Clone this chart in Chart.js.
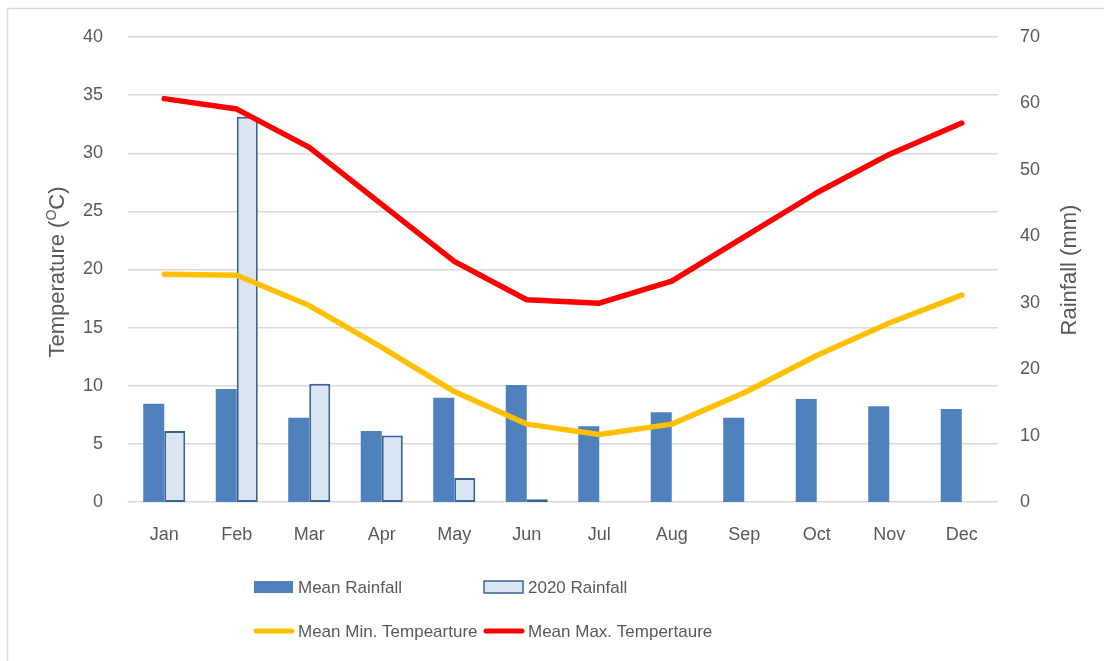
<!DOCTYPE html>
<html>
<head>
<meta charset="utf-8">
<script src="https://cdn.jsdelivr.net/npm/chart.js@4.4.1/dist/chart.umd.min.js"></script>
<style>
    html, body { margin: 0; padding: 0; background: #fff; }
    #wrap { width: 1104px; height: 661px; }
</style>
</head>
<body>
<div id="wrap"><canvas id="climate_chart" width="1104" height="661"></canvas></div>
<script>
// Chart data
const months = ["Jan", "Feb", "Mar", "Apr", "May", "Jun", "Jul", "Aug", "Sep", "Oct", "Nov", "Dec"];
const meanRainfall = [14.8, 17.0, 12.7, 10.7, 15.7, 17.6, 11.4, 13.5, 12.7, 15.5, 14.4, 14.0];
const rainfall2020 = [10.7, 58.0, 17.8, 10.0, 3.6, 0.4, null, null, null, null, null, null];
const meanMinTemp = [19.6, 19.5, 16.9, 13.3, 9.5, 6.7, 5.8, 6.7, 9.4, 12.6, 15.4, 17.8];
const meanMaxTemp = [34.7, 33.8, 30.5, 25.6, 20.7, 17.4, 17.1, 19.0, 22.8, 26.6, 29.9, 32.6];
const tempTicks = [0, 5, 10, 15, 20, 25, 30, 35, 40];
const rainTicks = [0, 10, 20, 30, 40, 50, 60, 70];

const textColor = "#595959";
const gridColor = "#D9D9D9";
const fontFamily = "'Liberation Sans', Arial, sans-serif";

// legend slots, in dataset order
const legendSlots = [
    { x: 254, y: 587 },
    { x: 484, y: 587 },
    { x: 254, y: 631 },
    { x: 484, y: 631 },
];

const extras = {
    id: "extras",
    beforeDraw(chart) {
        const ctx = chart.ctx;
        ctx.save();
        ctx.strokeStyle = gridColor;
        ctx.lineWidth = 1.5;
        ctx.strokeRect(7.5, 8.5, 1110, 670);
        ctx.restore();
    },
    afterDraw(chart) {
        const ctx = chart.ctx;
        ctx.save();
        ctx.fillStyle = textColor;
        ctx.textBaseline = "middle";

        // left axis title with superscript O
        const big = "22px " + fontFamily;
        const small = "14px " + fontFamily;
        ctx.font = big;
        const w1 = ctx.measureText("Temperature (").width;
        const w3 = ctx.measureText("C)").width;
        ctx.font = small;
        const w2 = ctx.measureText("O").width;
        let x = -(w1 + w2 + w3) / 2;
        ctx.save();
        ctx.translate(58, 272);
        ctx.rotate(-Math.PI / 2);
        ctx.textAlign = "left";
        ctx.font = big;
        ctx.fillText("Temperature (", x, 0);
        x += w1;
        ctx.font = small;
        ctx.fillText("O", x, -6);
        x += w2;
        ctx.font = big;
        ctx.fillText("C)", x, 0);
        ctx.restore();

        // right axis title
        ctx.save();
        ctx.translate(1070, 270);
        ctx.rotate(-Math.PI / 2);
        ctx.textAlign = "center";
        ctx.font = big;
        ctx.fillText("Rainfall (mm)", 0, 0);
        ctx.restore();

        // legend
        ctx.font = "17px " + fontFamily;
        ctx.textAlign = "left";
        chart.data.datasets.forEach((ds, i) => {
            const slot = legendSlots[i];
            if (ds.type === "line") {
                ctx.strokeStyle = ds.borderColor;
                ctx.lineWidth = 5;
                ctx.lineCap = "round";
                ctx.beginPath();
                ctx.moveTo(slot.x + 2, slot.y);
                ctx.lineTo(slot.x + 38, slot.y);
                ctx.stroke();
            } else {
                ctx.fillStyle = ds.backgroundColor;
                ctx.fillRect(slot.x, slot.y - 6, 39, 12);
                if (ds.borderWidth) {
                    ctx.strokeStyle = ds.borderColor;
                    ctx.lineWidth = 1.5;
                    ctx.strokeRect(slot.x, slot.y - 6, 39, 12);
                }
            }
            ctx.fillStyle = textColor;
            ctx.fillText(ds.label, slot.x + 44, slot.y + 1);
        });
        ctx.restore();
    },
};

new Chart(document.getElementById("climate_chart"), {
    type: "bar",
    data: {
        labels: months,
        datasets: [
            {
                label: "Mean Rainfall",
                data: meanRainfall,
                backgroundColor: "#4F81BD",
                borderWidth: 0,
                yAxisID: "y1",
                order: 2,
                categoryPercentage: 0.58,
                barPercentage: 1.0,
            },
            {
                label: "2020 Rainfall",
                data: rainfall2020,
                backgroundColor: "#DCE6F2",
                borderColor: "#3A6496",
                borderWidth: 2,
                borderSkipped: false,
                yAxisID: "y1",
                order: 2,
                categoryPercentage: 0.58,
                barPercentage: 1.0,
            },
            {
                type: "line",
                label: "Mean Min. Tempearture",
                data: meanMinTemp,
                borderColor: "#FFC000",
                backgroundColor: "#FFC000",
                borderWidth: 5.5,
                borderCapStyle: "round",
                borderJoinStyle: "round",
                pointRadius: 0,
                tension: 0,
                yAxisID: "y",
                order: 1,
            },
            {
                type: "line",
                label: "Mean Max. Tempertaure",
                data: meanMaxTemp,
                borderColor: "#FF0000",
                backgroundColor: "#FF0000",
                borderWidth: 5.5,
                borderCapStyle: "round",
                borderJoinStyle: "round",
                pointRadius: 0,
                tension: 0,
                yAxisID: "y",
                order: 1,
            },
        ],
    },
    options: {
        responsive: false,
        animation: false,
        layout: {
            padding: { top: 37, left: 0, right: 0, bottom: 0 },
        },
        plugins: {
            legend: { display: false },
            tooltip: { enabled: false },
        },
        scales: {
            x: {
                grid: { display: false, drawTicks: false },
                border: { display: false },
                ticks: {
                    color: textColor,
                    font: { size: 18, family: fontFamily },
                    padding: 22,
                },
                afterFit(scale) {
                    scale.height = 159;
                },
            },
            y: {
                position: "left",
                min: 0,
                max: 40,
                afterBuildTicks(scale) {
                    scale.ticks = tempTicks.map((v) => ({ value: v }));
                },
                grid: { color: gridColor, lineWidth: 1.5, drawTicks: false },
                border: { display: false },
                ticks: {
                    color: textColor,
                    font: { size: 18, family: fontFamily },
                    padding: 25,
                },
                afterFit(scale) {
                    scale.width = 128;
                },
            },
            y1: {
                position: "right",
                min: 0,
                max: 70,
                afterBuildTicks(scale) {
                    scale.ticks = rainTicks.map((v) => ({ value: v }));
                },
                grid: { display: false, drawTicks: false },
                border: { display: false },
                ticks: {
                    color: textColor,
                    font: { size: 18, family: fontFamily },
                    padding: 22,
                },
                afterFit(scale) {
                    scale.width = 106;
                },
            },
        },
    },
    plugins: [extras],
});
</script>
</body>
</html>
